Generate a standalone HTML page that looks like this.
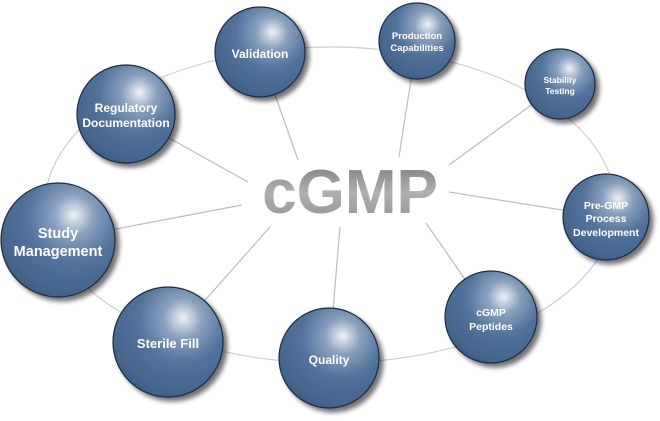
<!DOCTYPE html>
<html><head><meta charset="utf-8"><style>
html,body{margin:0;padding:0;background:#fff;}
svg{display:block;}
.t{font-family:"Liberation Sans",sans-serif;font-weight:bold;fill:#fff;text-anchor:middle;}
</style></head><body>
<svg width="660" height="421" viewBox="0 0 660 421" xmlns="http://www.w3.org/2000/svg">
<defs>
<radialGradient id="g" cx="0.62" cy="0.3" r="0.8" fx="0.64" fy="0.28">
<stop offset="0" stop-color="#eef2f7"/>
<stop offset="0.22" stop-color="#8aa1bf"/>
<stop offset="0.5" stop-color="#52739b"/>
<stop offset="0.85" stop-color="#44648c"/>
<stop offset="1" stop-color="#385275"/>
</radialGradient>
<linearGradient id="tg" x1="0" y1="0" x2="0" y2="1">
<stop offset="0" stop-color="#777"/>
<stop offset="0.5" stop-color="#b0b0b0"/>
<stop offset="1" stop-color="#909090"/>
</linearGradient>
<filter id="sh" x="-30%" y="-30%" width="170%" height="170%">
<feGaussianBlur in="SourceAlpha" stdDeviation="2.5"/>
<feOffset dx="4" dy="4" result="b"/>
<feComponentTransfer><feFuncA type="linear" slope="0.55"/></feComponentTransfer>
<feMerge><feMergeNode/><feMergeNode in="SourceGraphic"/></feMerge>
</filter>
</defs>
<ellipse cx="330" cy="205" rx="285" ry="158" fill="none" stroke="#cfcfcf" stroke-width="1.2"/>
<g stroke="#bdbdbd" stroke-width="1.2">
<line x1="260" y1="52" x2="298" y2="160"/>
<line x1="417" y1="41" x2="399" y2="157"/>
<line x1="560" y1="84" x2="449" y2="165"/>
<line x1="126" y1="114" x2="248" y2="182"/>
<line x1="606" y1="217" x2="449" y2="192"/>
<line x1="58" y1="240" x2="242" y2="205"/>
<line x1="168" y1="342" x2="270" y2="227"/>
<line x1="329" y1="358" x2="340" y2="227"/>
<line x1="491" y1="317" x2="426" y2="223"/>
</g>
<g fill="url(#g)" stroke="#1f2c3e" stroke-width="1.2" filter="url(#sh)">
<circle cx="260" cy="52" r="45"/>
<circle cx="417" cy="41" r="38"/>
<circle cx="560" cy="84" r="35"/>
<circle cx="126" cy="114" r="49"/>
<circle cx="606" cy="217" r="43"/>
<circle cx="58" cy="240" r="57"/>
<circle cx="491" cy="317" r="46"/>
<circle cx="168" cy="342" r="55"/>
<circle cx="329" cy="358" r="50"/>
</g>
<text x="350" y="213" font-family="Liberation Sans,sans-serif" font-weight="bold" font-size="62" fill="url(#tg)" text-anchor="middle">cGMP</text>
<text class="t" x="260" y="58" font-size="12">Validation</text>
<text class="t" x="417" y="39" font-size="9.5">Production</text>
<text class="t" x="417" y="51" font-size="9.5">Capabilities</text>
<text class="t" x="560" y="83" font-size="8.5">Stability</text>
<text class="t" x="560" y="94" font-size="8.5">Testing</text>
<text class="t" x="126" y="112" font-size="12">Regulatory</text>
<text class="t" x="126" y="127" font-size="12">Documentation</text>
<text class="t" x="606" y="209" font-size="10.5">Pre-GMP</text>
<text class="t" x="606" y="222" font-size="10.5">Process</text>
<text class="t" x="606" y="236" font-size="10.5">Development</text>
<text class="t" x="58" y="238" font-size="14.5">Study</text>
<text class="t" x="58" y="256" font-size="14.5">Management</text>
<text class="t" x="491" y="316" font-size="10.5">cGMP</text>
<text class="t" x="491" y="330" font-size="10.5">Peptides</text>
<text class="t" x="168" y="348" font-size="13">Sterile Fill</text>
<text class="t" x="329" y="364" font-size="12">Quality</text>
</svg>
</body></html>
